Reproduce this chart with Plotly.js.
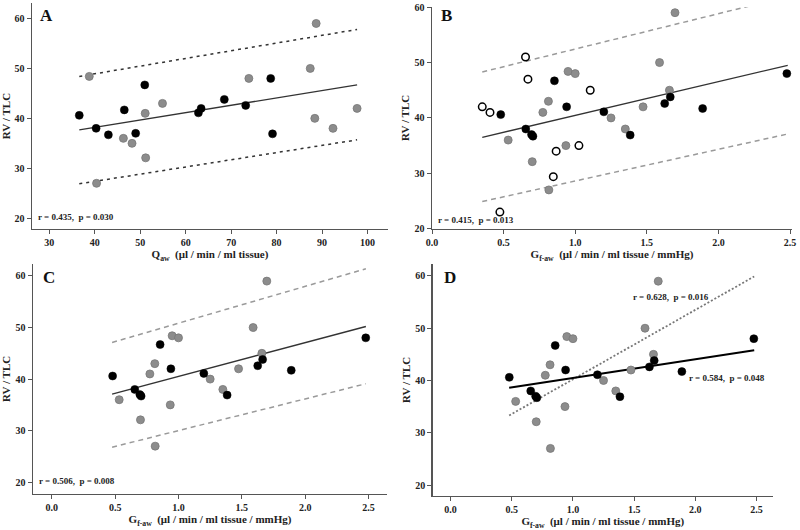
<!DOCTYPE html>
<html>
<head>
<meta charset="utf-8">
<script src="https://cdn.plot.ly/plotly-3.0.1.min.js"></script>
<style>html,body{margin:0;padding:0;background:#fff;}#chart{width:800px;height:530px;}</style>
</head>
<body>
<div id="chart"></div>
<script>
// ---------- Panel A data (Q_aw vs RV/TLC) ----------
const aBlackX = [36.6, 40.3, 43.0, 46.5, 49.0, 51.0, 62.8, 63.4, 68.5, 73.2, 78.7, 79.1];
const aBlackY = [40.6, 38.0, 36.7, 41.7, 37.0, 46.7, 41.1, 42.0, 43.8, 42.6, 48.0, 36.9];
const aGrayX = [38.8, 40.4, 46.3, 48.2, 51.1, 51.2, 54.9, 73.9, 87.4, 88.7, 88.4, 92.4, 97.7];
const aGrayY = [48.4, 27.0, 36.0, 35.0, 41.0, 32.1, 43.0, 48.0, 50.0, 59.0, 40.0, 38.0, 42.0];
const aFitX = [36.6, 97.7];
const aFitY = [37.7, 46.7];
const aUpperY = [48.4, 57.8];
const aLowerY = [26.9, 35.7];

// ---------- Shared data for B, C, D (G_f-aw vs RV/TLC) ----------
const gBlackX = [0.48, 0.655, 0.695, 0.705, 0.855, 0.94, 1.20, 1.384, 1.625, 1.664, 1.89, 2.478];
const gBlackY = [40.6, 38.0, 37.0, 36.7, 46.7, 42.0, 41.1, 36.9, 42.6, 43.8, 41.7, 48.0];
const gGrayX = [0.532, 0.70, 0.774, 0.813, 0.816, 0.935, 0.95, 1.0, 1.25, 1.35, 1.474, 1.589, 1.658, 1.697];
const gGrayY = [36.0, 32.1, 41.0, 43.0, 27.0, 35.0, 48.4, 48.0, 40.0, 38.0, 42.0, 50.0, 45.0, 59.0];
// open circles only in B
const bOpenX = [0.351, 0.405, 0.653, 0.67, 1.105, 1.026, 0.867, 0.847, 0.474];
const bOpenY = [42.0, 41.0, 51.0, 47.0, 45.0, 35.0, 34.0, 29.4, 23.0];

const bFitX = [0.351, 2.484];
const bFitY = [36.5, 49.5];
const bUpperX = [0.351, 2.216];
const bUpperY = [48.3, 60.2];
const bLowerX = [0.351, 2.484];
const bLowerY = [24.9, 37.1];

const cFitX = [0.476, 2.479];
const cFitY = [37.1, 50.2];
const cUpperY = [47.1, 61.4];
const cLowerY = [26.8, 39.1];

const dAllFitX = [0.479, 2.481];
const dAllFitY = [38.6, 45.8];
const dGrayFitX = [0.479, 2.481];
const dGrayFitY = [33.3, 59.9];

const statsA = "r = 0.435,  p = 0.030";
const statsB = "r = 0.415,  p = 0.013";
const statsC = "r = 0.506,  p = 0.008";
const statsD1 = "r = 0.628,  p = 0.016";
const statsD2 = "r = 0.584,  p = 0.048";

const FONT = "Liberation Serif, Times New Roman, serif";
const black = {color:'#000', size:8, line:{color:'#000', width:0.5}};
const gray = {color:'#8c8c8c', size:8, line:{color:'#777', width:0.8}};
const open = {color:'#fff', size:7.5, line:{color:'#000', width:1.5}};

function pts(x, y, marker, xa, ya){
  return {type:'scatter', mode:'markers', x:x, y:y, marker:marker, xaxis:xa, yaxis:ya, hoverinfo:'skip'};
}
function ln(x, y, line, xa, ya){
  return {type:'scatter', mode:'lines', x:x, y:y, line:line, xaxis:xa, yaxis:ya, hoverinfo:'skip'};
}
const fitLine = {color:'#333', width:1.3};
const dotA = {color:'#333', width:1.5, dash:'3px,4px'};
const dashBC = {color:'#9a9a9a', width:1.5, dash:'5px,4px'};

const data = [
  // A
  ln(aFitX, aFitY, fitLine, 'x', 'y'),
  ln(aFitX, aUpperY, dotA, 'x', 'y'),
  ln(aFitX, aLowerY, dotA, 'x', 'y'),
  pts(aGrayX, aGrayY, gray, 'x', 'y'),
  pts(aBlackX, aBlackY, black, 'x', 'y'),
  // B
  ln(bFitX, bFitY, fitLine, 'x2', 'y2'),
  ln(bUpperX, bUpperY, dashBC, 'x2', 'y2'),
  ln(bLowerX, bLowerY, dashBC, 'x2', 'y2'),
  pts(gGrayX, gGrayY, gray, 'x2', 'y2'),
  pts(gBlackX, gBlackY, black, 'x2', 'y2'),
  pts(bOpenX, bOpenY, open, 'x2', 'y2'),
  // C
  ln(cFitX, cFitY, fitLine, 'x3', 'y3'),
  ln(cFitX, cUpperY, dashBC, 'x3', 'y3'),
  ln(cFitX, cLowerY, dashBC, 'x3', 'y3'),
  pts(gGrayX, gGrayY, gray, 'x3', 'y3'),
  pts(gBlackX, gBlackY, black, 'x3', 'y3'),
  // D
  ln(dGrayFitX, dGrayFitY, {color:'#777', width:1.8, dash:'2px,2px'}, 'x4', 'y4'),
  ln(dAllFitX, dAllFitY, {color:'#000', width:2}, 'x4', 'y4'),
  pts(gGrayX, gGrayY, gray, 'x4', 'y4'),
  pts(gBlackX, gBlackY, black, 'x4', 'y4')
];

const tickFont = {family:FONT, size:10, color:'#222', weight:'bold'};
const titleFont = {family:FONT, size:11, color:'#222', weight:'bold'};
function xax(domain, range, dtick, fmt, anchor, title){
  return {domain:domain, range:range, dtick:dtick, tick0:0, tickformat:fmt, anchor:anchor,
    showgrid:false, zeroline:false, showline:true, linecolor:'#555', linewidth:1.5,
    ticks:'outside', ticklen:4, tickwidth:1, tickcolor:'#555', tickfont:tickFont,
    title:{text:title, font:titleFont, standoff:1}};
}
function yax(domain, range, anchor){
  return {domain:domain, range:range, dtick:10, tick0:0, anchor:anchor,
    showgrid:false, zeroline:false, showline:true, linecolor:'#555', linewidth:1.5,
    ticks:'outside', ticklen:4, tickwidth:1, tickcolor:'#555', tickfont:tickFont,
    title:{text:'RV / TLC', font:titleFont, standoff:2}};
}
const qTitle = 'Q<sub>aw</sub>  (μl / min / ml tissue)';
const gTitle = 'G<sub>f-aw</sub>  (μl / min / ml tissue / mmHg)';

function label(t, x, y){
  return {text:t, xref:'paper', yref:'paper', x:x, y:y, showarrow:false,
    xanchor:'center', yanchor:'middle', font:{family:FONT, size:17, color:'#111', weight:'bold'}};
}
function stat(t, xr, yr, x, y, xanchor){
  return {text:t, xref:xr, yref:yr, x:x, y:y, showarrow:false, xanchor:xanchor, yanchor:'middle',
    font:{family:FONT, size:9, color:'#222', weight:'bold'}};
}

const layout = {
  width:800, height:530, margin:{l:0, r:0, t:0, b:0},
  paper_bgcolor:'#fff', plot_bgcolor:'#fff', showlegend:false,
  xaxis: xax([0.04, 0.485], [26.2, 104.5], 10, '', 'y', qTitle),
  yaxis: yax([0.568, 0.994], [17.86, 63.06], 'x'),
  xaxis2: xax([0.54, 0.99], [0, 2.514], 0.5, '.1f', 'y2', gTitle),
  yaxis2: yax([0.568, 0.987], [19.95, 60.05], 'x2'),
  xaxis3: xax([0.0413, 0.4838], [-0.148, 2.646], 0.5, '.1f', 'y3', gTitle),
  yaxis3: yax([0.068, 0.502], [17.73, 62.33], 'x3'),
  xaxis4: xax([0.541, 0.966], [-0.145, 2.633], 0.5, '.1f', 'y4', gTitle),
  yaxis4: yax([0.0642, 0.502], [17.9, 62.3], 'x4'),
  annotations: [
    label('A', 0.0575, 0.970), label('B', 0.5575, 0.970),
    label('C', 0.061, 0.477), label('D', 0.5625, 0.477),
    stat(statsA, 'x domain', 'y domain', 0.012, 0.055, 'left'),
    stat(statsB, 'x2 domain', 'y2 domain', 0.012, 0.04, 'left'),
    stat(statsC, 'x3 domain', 'y3 domain', 0.012, 0.055, 'left'),
    stat(statsD1, 'x4', 'y4', 1.8, 56, 'center'),
    stat(statsD2, 'x4', 'y4', 2.255, 40.4, 'center')
  ]
};

Plotly.newPlot('chart', data, layout, {staticPlot:true, displayModeBar:false});
</script>
</body>
</html>
